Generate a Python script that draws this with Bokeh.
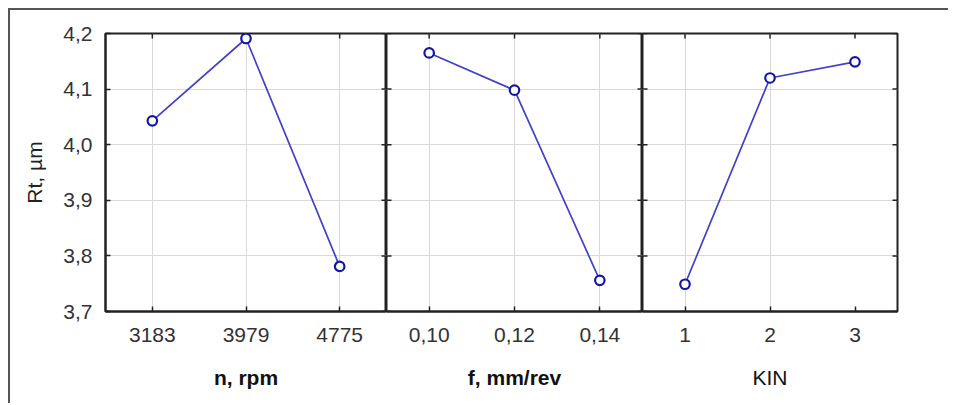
import math
from bokeh.plotting import figure
from bokeh.layouts import row
from bokeh.models import Range1d, FixedTicker, CustomJSTickFormatter
from bokeh.embed import file_html
from bokeh.resources import INLINE

# ---- data ----
n_levels = ["3183", "3979", "4775"]
n_rt = [4.043, 4.191, 3.781]
f_levels = ["0,10", "0,12", "0,14"]
f_rt = [4.165, 4.098, 3.756]
kin_levels = ["1", "2", "3"]
kin_rt = [3.749, 4.120, 4.149]
y_ticks = [3.7, 3.8, 3.9, 4.0, 4.1, 4.2]
y_title = "Rt, µm"
x_titles = ["n, rpm", "f, mm/rev", "KIN"]
x_title_styles = ["bold", "bold", "normal"]

FONT = "Liberation Sans"
FS = "21px"
LINE_COL = "#4242c8"
MARK_COL = "#1616a4"
GRID_COL = "#d9d9d9"
AX_COL = "#222222"

fmt = CustomJSTickFormatter(code="return tick.toFixed(1).replace('.', ',');")

TOP = 23
BOTTOM = 92
H = 393


def make_panel(levels, vals, title, tstyle, width, left, right, first):
    p = figure(x_range=levels, y_range=Range1d(3.7, 4.2), width=width, height=H,
               output_backend="svg", toolbar_location=None,
               min_border_left=left, min_border_right=right,
               min_border_top=TOP, min_border_bottom=BOTTOM,
               background_fill_color="white", border_fill_color="white",
               outline_line_color=AX_COL, outline_line_width=2)
    p.x_range.range_padding = 0
    # grids
    p.xgrid.grid_line_color = GRID_COL
    p.ygrid.grid_line_color = GRID_COL
    p.ygrid.ticker = FixedTicker(ticks=y_ticks)
    # bottom axis
    xa = p.xaxis[0]
    xa.axis_label = title
    xa.axis_label_text_font = FONT
    xa.axis_label_text_font_size = FS
    xa.axis_label_text_font_style = tstyle
    xa.axis_label_text_color = "#111111"
    xa.axis_label_standoff = 21
    xa.major_label_text_font = FONT
    xa.major_label_text_font_size = FS
    xa.major_label_text_color = "#333333"
    xa.major_label_standoff = 16
    xa.major_tick_in = 5
    xa.major_tick_out = 0
    xa.major_tick_line_color = AX_COL
    xa.major_tick_line_width = 1.5
    xa.axis_line_color = AX_COL
    xa.axis_line_width = 2
    # left axis
    ya = p.yaxis[0]
    if first:
        ya.ticker = FixedTicker(ticks=y_ticks)
        ya.formatter = fmt
        ya.major_tick_in = 5
        ya.major_tick_out = 0
        ya.minor_tick_in = 0
        ya.minor_tick_out = 0
        ya.major_tick_line_color = AX_COL
        ya.major_tick_line_width = 1.5
        ya.axis_line_color = AX_COL
        ya.axis_line_width = 2
        ya.axis_label = y_title
        ya.axis_label_text_font = FONT
        ya.axis_label_text_font_size = FS
        ya.axis_label_text_font_style = "normal"
        ya.axis_label_text_color = "#222222"
        ya.axis_label_standoff = 14
        ya.major_label_text_font = FONT
        ya.major_label_text_font_size = FS
        ya.major_label_text_color = "#333333"
        ya.major_label_standoff = 13
    else:
        ya.visible = False
        # inward ticks on the left edge
        p.scatter([(levels[0], -0.5)] * len(y_ticks), y_ticks, marker="dash",
                  size=10, line_color=AX_COL, line_width=1.5)
    # inward ticks on the right edge
    p.scatter([(levels[-1], 0.5)] * len(y_ticks), y_ticks, marker="dash",
              size=10, line_color=AX_COL, line_width=1.5)
    # inward ticks on the top edge
    p.scatter(levels, [y_ticks[-1]] * len(levels), marker="dash", angle=math.pi / 2,
              size=10, line_color=AX_COL, line_width=1.5)
    # data
    p.line(levels, vals, line_color=LINE_COL, line_width=1.7)
    p.scatter(levels, vals, marker="circle", size=9.5, line_width=2.2,
              line_color=MARK_COL, fill_color="white")
    return p


p1 = make_panel(n_levels, n_rt, x_titles[0], x_title_styles[0], 376, 95, 0, True)
p2 = make_panel(f_levels, f_rt, x_titles[1], x_title_styles[1], 256, 0, 0, False)
p3 = make_panel(kin_levels, kin_rt, x_titles[2], x_title_styles[2], 306, 0, 51, False)

layout = row(p1, p2, p3, spacing=0,
             styles={"margin": "8px 0 0 8px",
                     "border-top": "2px solid #555555",
                     "border-left": "2px solid #555555"})

open("out.html", "w").write(file_html(layout, INLINE))
